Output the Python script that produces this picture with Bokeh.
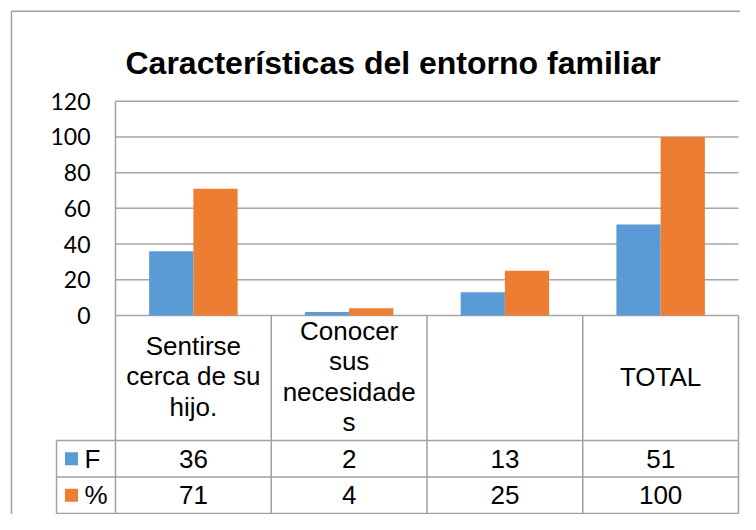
from bokeh.plotting import figure
from bokeh.models import FixedTicker, Range1d, Label
from bokeh.embed import file_html
from bokeh.resources import INLINE
from bokeh.core.properties import value
import numpy as np

# ---- data ----
title_text = "Características del entorno familiar"
categories = ["Sentirse cerca de su hijo.", "Conocer sus necesidades", "", "TOTAL"]
category_labels = ["Sentirse\ncerca de su\nhijo.", "Conocer\nsus\nnecesidade\ns", "", "TOTAL"]
series_names = ["F", "%"]
f_values = [36, 2, 13, 51]
pct_values = [71, 4, 25, 100]
y_ticks = [0, 20, 40, 60, 80, 100, 120]

# ---- style / layout ----
BLUE = "#5B9BD5"
ORANGE = "#ED7D31"
GRID = "#a6a6a6"
LINE = "#a0a0a0"
FONT_TABLE = "Liberation Sans"
W, H = 740, 514

n = len(categories)
left0_px, right_px = 115.0, 738.0          # plot area (value axis .. right edge)
zero_px, top_px = 315.0, 100.7             # y of value 0 and of value 120
u = (right_px - left0_px) / n
ky = (zero_px - top_px) / y_ticks[-1]


def xd(px):
    return (px - left0_px) / u


def yd(px):
    return (zero_px - px) / ky


header_bottom = yd(440.0)
row1_bottom = yd(476.5)
row2_bottom = yd(513.0)

p = figure(width=W, height=H, x_range=Range1d(xd(0), xd(W)), y_range=Range1d(yd(H), yd(0)),
           output_backend="svg", toolbar_location=None, x_axis_location=None,
           min_border_left=0, min_border_right=0, min_border_top=0, min_border_bottom=0)
p.outline_line_color = None
p.background_fill_color = "white"
p.border_fill_color = "white"
p.grid.visible = False

# value axis drawn at the left edge of the plot area
ax = p.yaxis[0]
ax.fixed_location = 0
ax.bounds = (header_bottom, y_ticks[-1])
ax.ticker = FixedTicker(ticks=y_ticks)
ax.major_tick_line_color = None
ax.minor_tick_line_color = None
ax.major_tick_out = 0
ax.major_tick_in = 0
ax.major_label_standoff = 25
ax.major_label_text_font = "Lato"
ax.major_label_text_font_size = "23px"
ax.major_label_text_color = "#000000"
ax.axis_line_color = LINE
ax.axis_line_width = 1.5

# outer chart border (left and top visible)
bx, by = xd(11), yd(10.7)
p.segment(x0=[bx, bx], y0=[by, by], x1=[bx, xd(W + 10)], y1=[yd(H + 10), by],
          line_color=LINE, line_width=1.5)

# title
p.add_layout(Label(x=xd(125), y=yd(62), text=title_text, text_font="Liberation Sans",
                   text_font_size="32px", text_font_style="bold", text_color="#000000",
                   text_align="left", text_baseline="alphabetic"))

# gridlines from the tick values
p.segment(x0=[0] * len(y_ticks), y0=y_ticks, x1=[n] * len(y_ticks), y1=y_ticks,
          line_color=GRID, line_width=1.5)

# bars
xc = np.arange(n) + 0.5
bw, off = 0.284, 0.142
p.vbar(x=xc - off, top=f_values, bottom=0, width=bw, color=BLUE, line_color=None)
p.vbar(x=xc + off, top=pct_values, bottom=0, width=bw, color=ORANGE, line_color=None)

# data table: category header row
cols = np.arange(1, n + 1)
p.segment(x0=cols, y0=[0] * n, x1=cols, y1=[header_bottom] * n, line_color=LINE, line_width=1.5)
p.text(x=xc, y=[yd(376.0)] * n, text=category_labels, text_font=value(FONT_TABLE),
       text_font_size="26px", text_align="center", text_baseline="middle",
       text_line_height=1.02, text_color="#000000")

# data table: series rows
leg_left = xd(56)
hy = [header_bottom, row1_bottom, row2_bottom]
p.segment(x0=[leg_left] * 3, y0=hy, x1=[n] * 3, y1=hy, line_color=LINE, line_width=1.5)
vx = [leg_left] + list(range(0, n + 1))
p.segment(x0=vx, y0=[header_bottom] * len(vx), x1=vx, y1=[row2_bottom] * len(vx),
          line_color=LINE, line_width=1.5)
rows_y = [(header_bottom + row1_bottom) / 2, (row1_bottom + row2_bottom) / 2]
p.rect(x=[xd(71)] * 2, y=rows_y, width=13, height=13, width_units="screen",
       height_units="screen", color=[BLUE, ORANGE], line_color=None)
p.text(x=[xd(84)] * 2, y=rows_y, text=series_names, text_font=value(FONT_TABLE),
       text_font_size="26px", text_align="left", text_baseline="middle", text_color="#000000")
for vals, yy in zip([f_values, pct_values], rows_y):
    p.text(x=xc, y=[yy] * n, text=[str(v) for v in vals], text_font=value(FONT_TABLE),
           text_font_size="26px", text_align="center", text_baseline="middle",
           text_color="#000000")

open("out.html", "w").write(file_html(p, INLINE))
